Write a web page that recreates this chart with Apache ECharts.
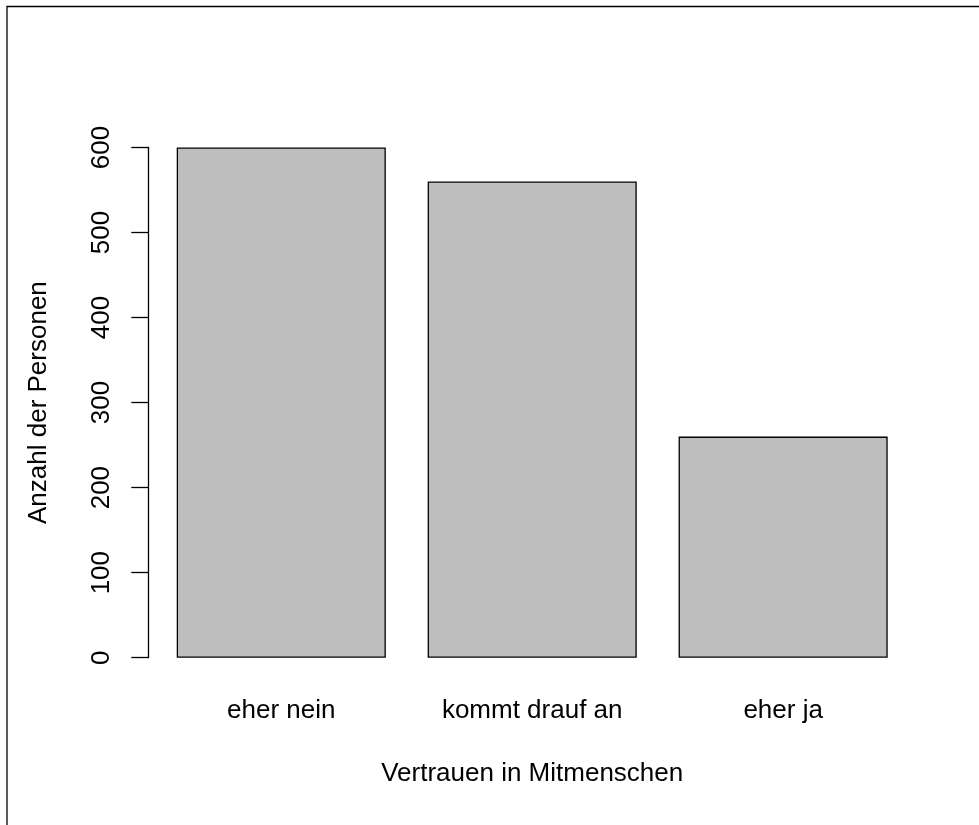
<!DOCTYPE html>
<html>
<head>
<meta charset="utf-8">
<script src="https://cdn.jsdelivr.net/npm/echarts@6/dist/echarts.min.js"></script>
<style>
html,body{margin:0;padding:0;background:#fff;}
#chart{width:979px;height:825px;}
</style>
</head>
<body>
<div id="chart"></div>
<script>
const categories = ["eher nein", "kommt drauf an", "eher ja"];
const counts = [600, 560, 260];
const yTicks = [0, 100, 200, 300, 400, 500, 600];
const xTitle = "Vertrauen in Mitmenschen";
const yTitle = "Anzahl der Personen";

const FONT = "'Liberation Sans', Arial, Helvetica, sans-serif";
const chart = echarts.init(document.getElementById('chart'), null, {renderer: 'canvas'});
chart.setOption({
  animation: false,
  backgroundColor: '#ffffff',
  grid: {left: 155.8, right: 70.4, top: 147.5, bottom: 167.3},
  xAxis: {
    type: 'category',
    data: categories,
    axisLine: {show: false},
    axisTick: {show: false},
    axisLabel: {color: '#000', fontFamily: FONT, fontSize: 26, margin: 40},
    name: xTitle,
    nameLocation: 'middle',
    nameGap: 103,
    nameTextStyle: {color: '#000', fontFamily: FONT, fontSize: 26}
  },
  yAxis: {
    type: 'value',
    min: yTicks[0],
    max: yTicks[yTicks.length - 1],
    interval: yTicks[1] - yTicks[0],
    offset: 7.5,
    axisLine: {show: true, lineStyle: {color: '#000', width: 1.3}},
    axisTick: {show: true, length: 17, lineStyle: {color: '#000', width: 1.3}},
    splitLine: {show: false},
    axisLabel: {color: '#000', fontFamily: FONT, fontSize: 26, rotate: 90, margin: 33},
    name: yTitle,
    nameLocation: 'middle',
    nameRotate: 90,
    nameGap: 96,
    nameTextStyle: {color: '#000', fontFamily: FONT, fontSize: 26}
  },
  series: [{
    type: 'bar',
    data: counts,
    barCategoryGap: '16.67%',
    itemStyle: {color: '#BEBEBE', borderColor: '#000', borderWidth: 1.3}
  }],
  graphic: [{
    type: 'rect',
    shape: {x: 7, y: 6.5, width: 1200, height: 1200},
    style: {fill: 'none', stroke: '#000', lineWidth: 1.3},
    silent: true
  }]
});
</script>
</body>
</html>
